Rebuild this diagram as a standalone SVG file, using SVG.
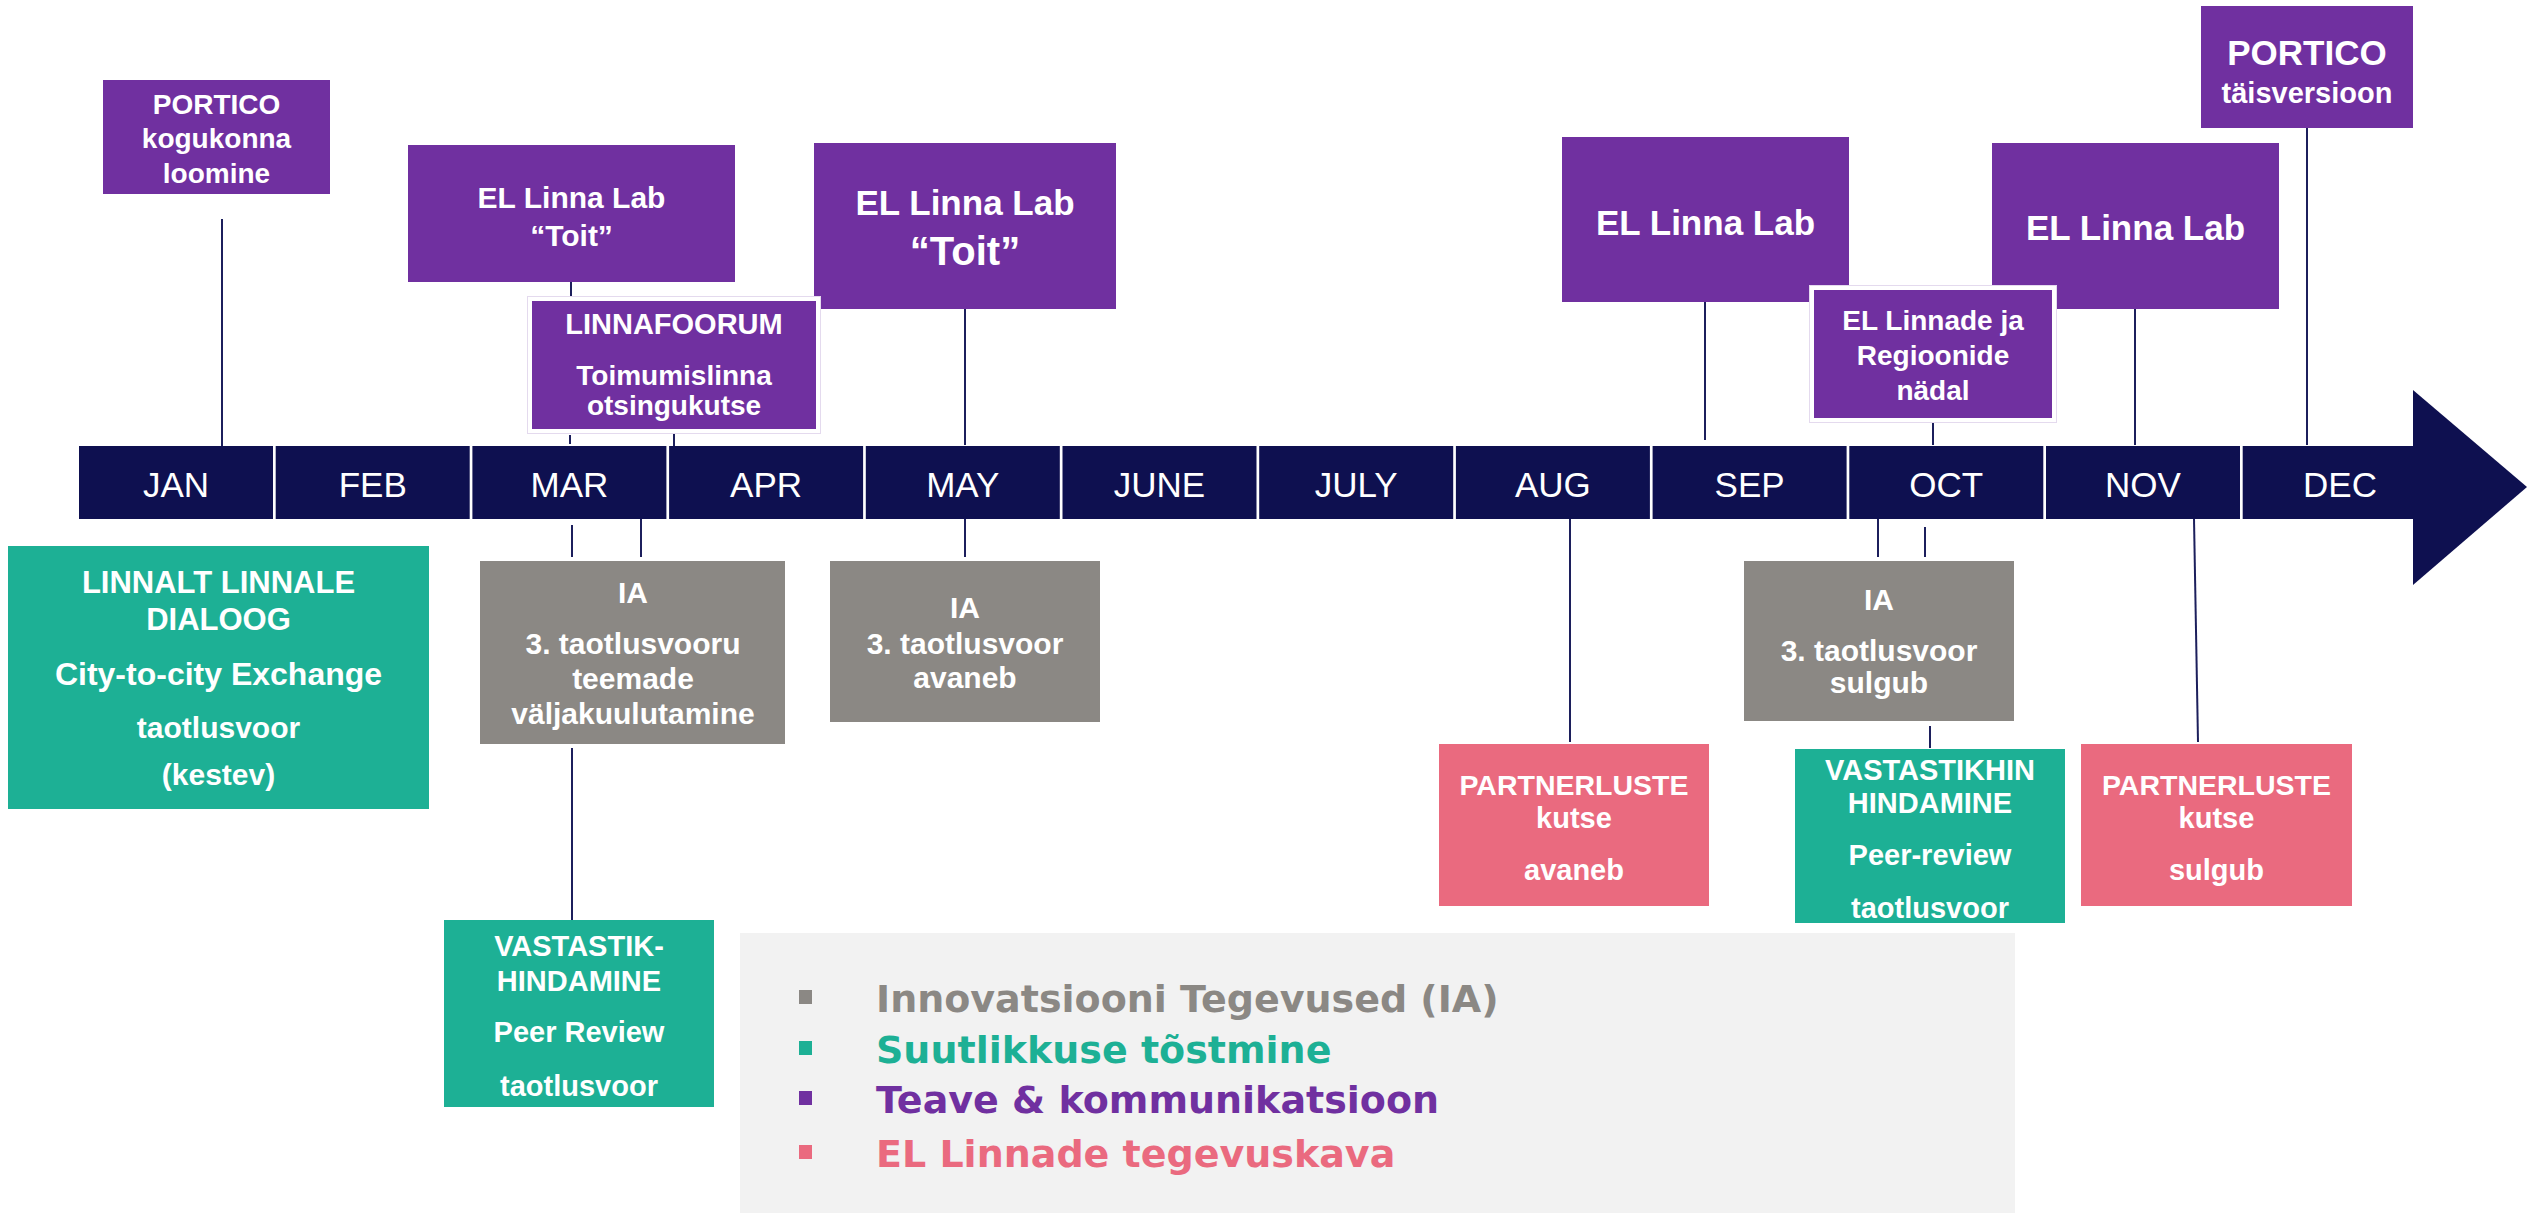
<svg xmlns="http://www.w3.org/2000/svg" width="2527" height="1213" viewBox="0 0 2527 1213">
<style>
.bg{fill:#ffffff}
.cell{fill:#0E1050}
.mon{font-family:"Liberation Sans",Arial,sans-serif;font-size:35px;fill:#ffffff;text-anchor:middle}
.pur{fill:#7030A0}
.teal{fill:#1DB095}
.gray{fill:#8B8884}
.pink{fill:#EA6A7F}
.t{font-family:"Liberation Sans",Arial,sans-serif;font-weight:bold;fill:#ffffff;text-anchor:middle}
.conn line{stroke:#1C1F5C;stroke-width:2}
.lg{font-family:"DejaVu Sans",Verdana,sans-serif;font-weight:bold;font-size:38px}
.edge{fill:none;stroke:#E4DAEE;stroke-width:1}
</style>
<rect class="bg" x="0" y="0" width="2527" height="1213"/>

<g id="timeline">
<rect class="cell" x="79" y="446" width="194" height="73"/>
<rect class="cell" x="275.7" y="446" width="194" height="73"/>
<rect class="cell" x="472.4" y="446" width="194" height="73"/>
<rect class="cell" x="669.1" y="446" width="194" height="73"/>
<rect class="cell" x="865.8" y="446" width="194" height="73"/>
<rect class="cell" x="1062.5" y="446" width="194" height="73"/>
<rect class="cell" x="1259.2" y="446" width="194" height="73"/>
<rect class="cell" x="1455.9" y="446" width="194" height="73"/>
<rect class="cell" x="1652.6" y="446" width="194" height="73"/>
<rect class="cell" x="1849.3" y="446" width="194" height="73"/>
<rect class="cell" x="2046" y="446" width="194" height="73"/>
<rect class="cell" x="2242.7" y="446" width="172" height="73"/>
<polygon class="cell" points="2413,390 2527,487 2413,585"/>
<text class="mon" x="176" y="497">JAN</text>
<text class="mon" x="372.7" y="497">FEB</text>
<text class="mon" x="569.4" y="497">MAR</text>
<text class="mon" x="766.1" y="497">APR</text>
<text class="mon" x="962.8" y="497">MAY</text>
<text class="mon" x="1159.5" y="497">JUNE</text>
<text class="mon" x="1356.2" y="497">JULY</text>
<text class="mon" x="1552.9" y="497">AUG</text>
<text class="mon" x="1749.6" y="497">SEP</text>
<text class="mon" x="1946.3" y="497">OCT</text>
<text class="mon" x="2143" y="497">NOV</text>
<text class="mon" x="2340" y="497">DEC</text>
</g>

<g class="conn" id="connectors">
<line x1="222" y1="219" x2="222" y2="446"/>
<line x1="571" y1="282" x2="571" y2="298"/>
<line x1="570" y1="435" x2="570" y2="444"/>
<line x1="674" y1="433" x2="674" y2="446"/>
<line x1="965" y1="309" x2="965" y2="445"/>
<line x1="1705" y1="302" x2="1705" y2="440"/>
<line x1="1933" y1="423" x2="1933" y2="445"/>
<line x1="2135" y1="309" x2="2135" y2="445"/>
<line x1="2307" y1="128" x2="2307" y2="445"/>
<line x1="572" y1="525" x2="572" y2="557"/>
<line x1="641" y1="519" x2="641" y2="557"/>
<line x1="572" y1="748" x2="572" y2="920"/>
<line x1="965" y1="519" x2="965" y2="557"/>
<line x1="1570" y1="519" x2="1570" y2="742"/>
<line x1="1878" y1="519" x2="1878" y2="557"/>
<line x1="1925" y1="527" x2="1925" y2="557"/>
<line x1="1930" y1="726" x2="1930" y2="748"/>
<line x1="2194" y1="519" x2="2198" y2="742"/>
</g>

<g id="portico-kogukonna">
<rect class="pur" x="103" y="80" width="227" height="114"/>
<text class="t" font-size="28" x="216.5" y="114">PORTICO</text>
<text class="t" font-size="28" x="216.5" y="148">kogukonna</text>
<text class="t" font-size="28" x="216.5" y="183">loomine</text>
</g>

<g id="lab-toit-mar">
<rect class="pur" x="408" y="145" width="327" height="137"/>
<text class="t" font-size="30" x="571.5" y="208">EL Linna Lab</text>
<text class="t" font-size="30" x="571.5" y="246">“Toit”</text>
</g>

<g id="lab-toit-may">
<rect class="pur" x="814" y="143" width="302" height="166"/>
<text class="t" font-size="35" x="965" y="215">EL Linna Lab</text>
<text class="t" font-size="40" x="965" y="265">“Toit”</text>
</g>

<g id="linnafoorum">
<rect class="edge" x="527.5" y="296.5" width="293" height="137"/>
<rect class="pur" x="530" y="299" width="288" height="132" stroke="#ffffff" stroke-width="4"/>
<text class="t" font-size="29" x="674" y="334">LINNAFOORUM</text>
<text class="t" font-size="28" x="674" y="385">Toimumislinna</text>
<text class="t" font-size="28" x="674" y="415">otsingukutse</text>
</g>

<g id="lab-sep">
<rect class="pur" x="1562" y="137" width="287" height="165"/>
<text class="t" font-size="35" x="1705.5" y="235">EL Linna Lab</text>
</g>

<g id="lab-nov">
<rect class="pur" x="1992" y="143" width="287" height="166"/>
<text class="t" font-size="35" x="2135.5" y="240">EL Linna Lab</text>
</g>

<g id="linnade-nadal">
<rect class="edge" x="1809.5" y="285.5" width="247" height="137"/>
<rect class="pur" x="1812" y="288" width="242" height="132" stroke="#ffffff" stroke-width="4"/>
<text class="t" font-size="28" x="1933" y="330">EL Linnade ja</text>
<text class="t" font-size="28" x="1933" y="365">Regioonide</text>
<text class="t" font-size="28" x="1933" y="400">nädal</text>
</g>

<g id="portico-taisversioon">
<rect class="pur" x="2201" y="6" width="212" height="122"/>
<text class="t" font-size="35" x="2307" y="65">PORTICO</text>
<text class="t" font-size="29" x="2307" y="103">täisversioon</text>
</g>

<g id="linnalt-linnale">
<rect class="teal" x="8" y="546" width="421" height="263"/>
<text class="t" font-size="31" x="218.5" y="593">LINNALT LINNALE</text>
<text class="t" font-size="31" x="218.5" y="630">DIALOOG</text>
<text class="t" font-size="32" x="218.5" y="685">City-to-city Exchange</text>
<text class="t" font-size="30" x="218.5" y="738">taotlusvoor</text>
<text class="t" font-size="30" x="218.5" y="785">(kestev)</text>
</g>

<g id="ia-mar">
<rect class="gray" x="480" y="561" width="305" height="183"/>
<text class="t" font-size="30" x="633" y="603">IA</text>
<text class="t" font-size="30" x="633" y="654">3. taotlusvooru</text>
<text class="t" font-size="30" x="633" y="689">teemade</text>
<text class="t" font-size="30" x="633" y="724">väljakuulutamine</text>
</g>

<g id="ia-may">
<rect class="gray" x="830" y="561" width="270" height="161"/>
<text class="t" font-size="30" x="965" y="618">IA</text>
<text class="t" font-size="30" x="965" y="654">3. taotlusvoor</text>
<text class="t" font-size="30" x="965" y="688">avaneb</text>
</g>

<g id="vastastik-mar">
<rect class="teal" x="444" y="920" width="270" height="187"/>
<text class="t" font-size="29" x="579" y="956">VASTASTIK-</text>
<text class="t" font-size="29" x="579" y="991">HINDAMINE</text>
<text class="t" font-size="29" x="579" y="1042">Peer Review</text>
<text class="t" font-size="29" x="579" y="1096">taotlusvoor</text>
</g>

<g id="ia-oct">
<rect class="gray" x="1744" y="561" width="270" height="160"/>
<text class="t" font-size="30" x="1879" y="610">IA</text>
<text class="t" font-size="30" x="1879" y="661">3. taotlusvoor</text>
<text class="t" font-size="30" x="1879" y="693">sulgub</text>
</g>

<g id="vastastikhin-oct">
<rect class="teal" x="1795" y="749" width="270" height="174"/>
<text class="t" font-size="29" x="1930" y="780">VASTASTIKHIN</text>
<text class="t" font-size="29" x="1930" y="813">HINDAMINE</text>
<text class="t" font-size="29" x="1930" y="865">Peer-review</text>
<text class="t" font-size="29" x="1930" y="918">taotlusvoor</text>
</g>

<g id="partner-aug">
<rect class="pink" x="1439" y="744" width="270" height="162"/>
<text class="t" font-size="28.5" x="1574" y="795">PARTNERLUSTE</text>
<text class="t" font-size="29" x="1574" y="828">kutse</text>
<text class="t" font-size="29" x="1574" y="880">avaneb</text>
</g>

<g id="partner-nov">
<rect class="pink" x="2081" y="744" width="271" height="162"/>
<text class="t" font-size="28.5" x="2216.5" y="795">PARTNERLUSTE</text>
<text class="t" font-size="29" x="2216.5" y="828">kutse</text>
<text class="t" font-size="29" x="2216.5" y="880">sulgub</text>
</g>

<g id="legend">
<rect x="740" y="933" width="1275" height="280" fill="#F2F2F2"/>
<rect class="gray" x="799" y="990" width="13" height="14"/>
<rect class="teal" x="799" y="1041" width="13" height="14"/>
<rect class="pur" x="799" y="1091" width="13" height="14"/>
<rect class="pink" x="799" y="1145" width="13" height="14"/>
<text class="lg" x="876" y="1012" fill="#8B8884">Innovatsiooni Tegevused (IA)</text>
<text class="lg" x="876" y="1063" fill="#1DB095">Suutlikkuse tõstmine</text>
<text class="lg" x="876" y="1113" fill="#7030A0">Teave &amp; kommunikatsioon</text>
<text class="lg" x="876" y="1167" fill="#EA6A7F">EL Linnade tegevuskava</text>
</g>
</svg>
